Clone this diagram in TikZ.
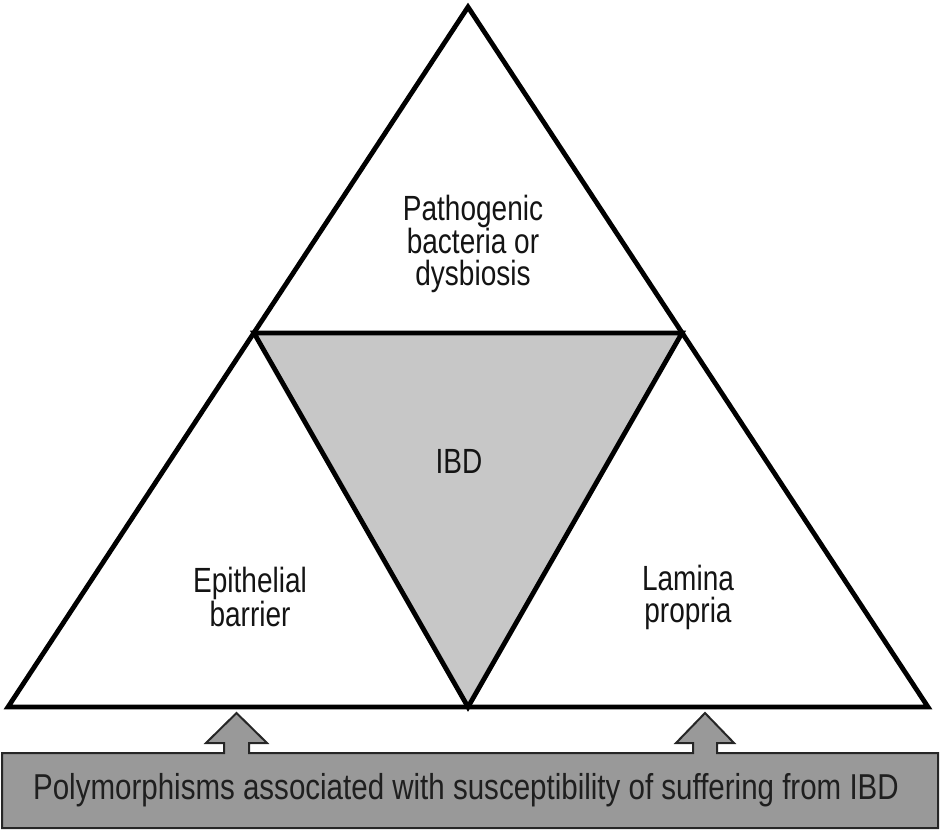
\documentclass[tikz,border=0pt]{standalone}
\usepackage{fontspec}
\setmainfont{Liberation Sans}
\newfontfamily\labelfont[FakeStretch=0.8]{Liberation Sans}
\newfontfamily\bottomfont[FakeStretch=0.82]{Liberation Sans}
\tikzset{
  tri/.style={draw=black, line width=4.8pt, line join=miter},
  lbl/.style={font=\labelfont\fontsize{35}{32}\selectfont, text=black!92, align=center, inner sep=0pt},
  boxtext/.style={font=\bottomfont\fontsize{36}{36}\selectfont, text=black!88, inner sep=0pt},
  basebox/.style={draw=black!85, line width=2pt, fill=black!40, line join=miter}
}
\begin{document}
\begin{tikzpicture}[x=1pt,y=-1pt]
\useasboundingbox (0,0) rectangle (941,831);
\coordinate (apex) at (468,7);
\coordinate (bl) at (8,707);
\coordinate (br) at (928,707);
\coordinate (il) at (254,333);
\coordinate (ir) at (682,333);
\coordinate (ib) at (468,707);
\fill[white] (apex) -- (bl) -- (br) -- cycle;
\fill[black!22] (il) -- (ir) -- (ib) -- cycle;
\draw[tri] (apex) -- (bl) -- (br) -- cycle;
\draw[tri] (il) -- (ir) -- (ib) -- cycle;
\draw[basebox] (2,753) -- (224,753) -- (224,743) -- (206,743) -- (236.5,713) -- (267,743) -- (249,743) -- (249,753)
  -- (693,753) -- (693,743) -- (676,743) -- (705,713) -- (734,743) -- (717,743) -- (717,753)
  -- (938,753) -- (938,828) -- (2,828) -- cycle;
\node[lbl] (patho) at (473,244) {Pathogenic\\bacteria or\\dysbiosis};
\node[lbl] (ibd) at (459,461) {IBD};
\node[lbl] (epi) at (250,597) {Epithelial\\barrier};
\node[lbl] (lam) at (688,597) {Lamina\\propria};
\node[boxtext] (poly) at (466,790) {Polymorphisms associated with susceptibility of suffering from IBD};
\end{tikzpicture}
\end{document}
